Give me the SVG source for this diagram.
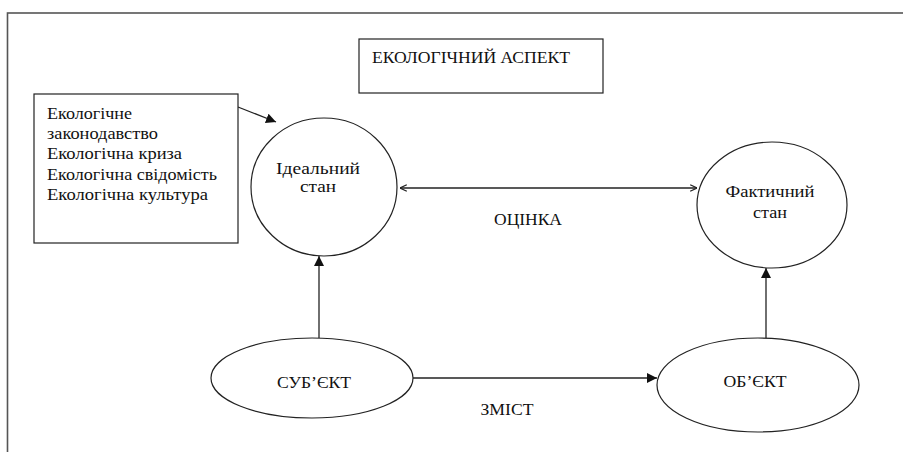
<svg xmlns="http://www.w3.org/2000/svg" width="903" height="452" viewBox="0 0 903 452">
<defs>
<style>
text{font-size:16px;fill:#111}
text.s{font-size:17px}
.n{fill:#fff;stroke:#222;stroke-width:1.2}
.c{stroke:#222;stroke-width:1.3;fill:none}
</style>
<marker id="fa" viewBox="0 0 10 10" refX="10" refY="5" markerWidth="10" markerHeight="10" markerUnits="userSpaceOnUse" orient="auto">
<path d="M0,0 L10,5 L0,10 z" fill="#111"/>
</marker>
<marker id="oa" viewBox="0 0 10 10" refX="9.5" refY="5" markerWidth="8" markerHeight="8" markerUnits="userSpaceOnUse" orient="auto-start-reverse">
<path d="M1,1 L9.5,5 L1,9" fill="none" stroke="#222" stroke-width="1.5"/>
</marker>
</defs>
<rect x="0" y="0" width="903" height="452" fill="#fff"/>
<rect x="7.5" y="13" width="920" height="470" fill="none" stroke="#555" stroke-width="1.6"/>
<g id="connectors">
<line class="c" x1="238" y1="107" x2="276" y2="122" marker-end="url(#fa)"/>
<line class="c" x1="400" y1="188" x2="697" y2="188" marker-start="url(#oa)" marker-end="url(#oa)"/>
<line class="c" x1="319" y1="338" x2="319" y2="256" marker-end="url(#fa)"/>
<line class="c" x1="413" y1="378" x2="657" y2="378" marker-end="url(#fa)"/>
<line class="c" x1="766" y1="338" x2="766" y2="268" marker-end="url(#fa)"/>
<text font-family="'Liberation Serif', serif" x="528" y="225" text-anchor="middle" textLength="68" lengthAdjust="spacingAndGlyphs">ОЦІНКА</text>
<text font-family="'Liberation Serif', serif" x="507" y="415" text-anchor="middle" textLength="53" lengthAdjust="spacingAndGlyphs">ЗМІСТ</text>
</g>
<g id="title">
<rect class="n" x="359" y="39" width="244" height="54"/>
<text font-family="'Liberation Serif', serif" x="372" y="63" textLength="198" lengthAdjust="spacingAndGlyphs">ЕКОЛОГІЧНИЙ АСПЕКТ</text>
</g>
<g id="factors">
<rect class="n" x="34" y="94" width="204" height="149"/>
<text font-family="'Liberation Serif', serif" class="s" x="47" y="119" textLength="85" lengthAdjust="spacingAndGlyphs">Екологічне</text>
<text font-family="'Liberation Serif', serif" class="s" x="47" y="139" textLength="111" lengthAdjust="spacingAndGlyphs">законодавство</text>
<text font-family="'Liberation Serif', serif" class="s" x="47" y="159" textLength="135" lengthAdjust="spacingAndGlyphs">Екологічна криза</text>
<text font-family="'Liberation Serif', serif" class="s" x="47" y="180" textLength="170" lengthAdjust="spacingAndGlyphs">Екологічна свідомість</text>
<text font-family="'Liberation Serif', serif" class="s" x="47" y="200" textLength="161" lengthAdjust="spacingAndGlyphs">Екологічна культура</text>
</g>
<g id="ideal">
<ellipse class="n" cx="324" cy="187" rx="73" ry="69"/>
<text font-family="'Liberation Serif', serif" x="318" y="174" text-anchor="middle" textLength="84" lengthAdjust="spacingAndGlyphs">Ідеальний</text>
<text font-family="'Liberation Serif', serif" x="318" y="192" text-anchor="middle" textLength="36" lengthAdjust="spacingAndGlyphs">стан</text>
</g>
<g id="actual">
<ellipse class="n" cx="772" cy="205" rx="75" ry="63"/>
<text font-family="'Liberation Serif', serif" x="770" y="197" text-anchor="middle" textLength="89" lengthAdjust="spacingAndGlyphs">Фактичний</text>
<text font-family="'Liberation Serif', serif" x="770" y="218" text-anchor="middle" textLength="34" lengthAdjust="spacingAndGlyphs">стан</text>
</g>
<g id="subject">
<ellipse class="n" cx="312" cy="378" rx="101" ry="40"/>
<text font-family="'Liberation Serif', serif" x="314" y="388" text-anchor="middle" textLength="74" lengthAdjust="spacingAndGlyphs">СУБ’ЄКТ</text>
</g>
<g id="object">
<ellipse class="n" cx="758" cy="385" rx="101" ry="47"/>
<text font-family="'Liberation Serif', serif" x="755" y="387" text-anchor="middle" textLength="63" lengthAdjust="spacingAndGlyphs">ОБ’ЄКТ</text>
</g>
</svg>
